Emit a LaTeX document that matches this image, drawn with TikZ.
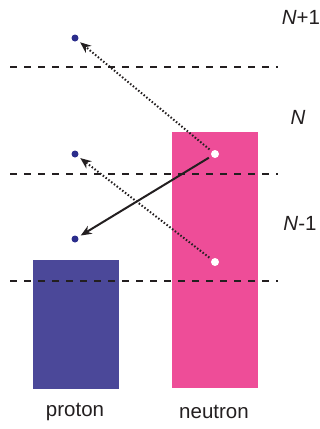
\documentclass[tikz,border=0pt]{standalone}
\usepackage{fontspec}
\setmainfont{Liberation Sans}
\usetikzlibrary{arrows.meta}
\definecolor{protc}{HTML}{4B4899}
\definecolor{neutc}{HTML}{EE4D98}
\definecolor{dotc}{HTML}{2B2D8C}
\definecolor{linec}{HTML}{231F20}
\begin{document}
\begin{tikzpicture}[x=1pt,y=-1pt,
  level/.style={draw=linec,line width=2.4pt,dash pattern=on 7pt off 7pt},
  pdot/.style={circle,fill=dotc,inner sep=0pt,minimum size=7pt},
  hdot/.style={circle,fill=white,inner sep=0pt,minimum size=8pt},
  hop/.style={draw=linec,line width=2pt,dash pattern=on 1.5pt off 2pt,-{Stealth[length=11pt,width=9pt]},shorten <=3pt,shorten >=3pt},
  jump/.style={draw=linec,line width=2pt,-{Stealth[length=11pt,width=9pt]},shorten <=3pt,shorten >=3pt},
  lab/.style={font=\fontsize{20.5}{24}\selectfont,text=linec},
  nlab/.style={font=\fontsize{20.5}{24}\selectfont\itshape,text=linec}]
\useasboundingbox (0,0) rectangle (320,429);
% bars
\fill[protc] (33,260) rectangle (119,389);
\fill[neutc] (172,132) rectangle (258,388);
% levels
\coordinate (l1a) at (10,67); \coordinate (l1b) at (278,67);
\coordinate (l2a) at (10,174); \coordinate (l2b) at (278,174);
\coordinate (l3a) at (10,281); \coordinate (l3b) at (278,281);
\draw[level] (l1a) -- (l1b);
\draw[level] (l2a) -- (l2b);
\draw[level] (l3a) -- (l3b);
% dots
\node[pdot] (p1) at (75,38) {};
\node[pdot] (p2) at (75,154) {};
\node[pdot] (p3) at (75,239) {};
\node[hdot] (h1) at (215,154) {};
\node[hdot] (h2) at (215,262) {};
% arrows
\draw[hop] (h1) -- (p1);
\draw[hop] (h2) -- (p2);
\draw[jump] (h1) -- (p3);
% labels
\node[nlab] (t1) at (301,17) {N\upshape+1};
\node[nlab] (t2) at (298,117) {N};
\node[nlab] (t3) at (300,223) {N\upshape-1};
\node[lab] (tp) at (75,412) {proton};
\node[lab] (tn) at (214,412) {neutron};
\end{tikzpicture}
\end{document}
